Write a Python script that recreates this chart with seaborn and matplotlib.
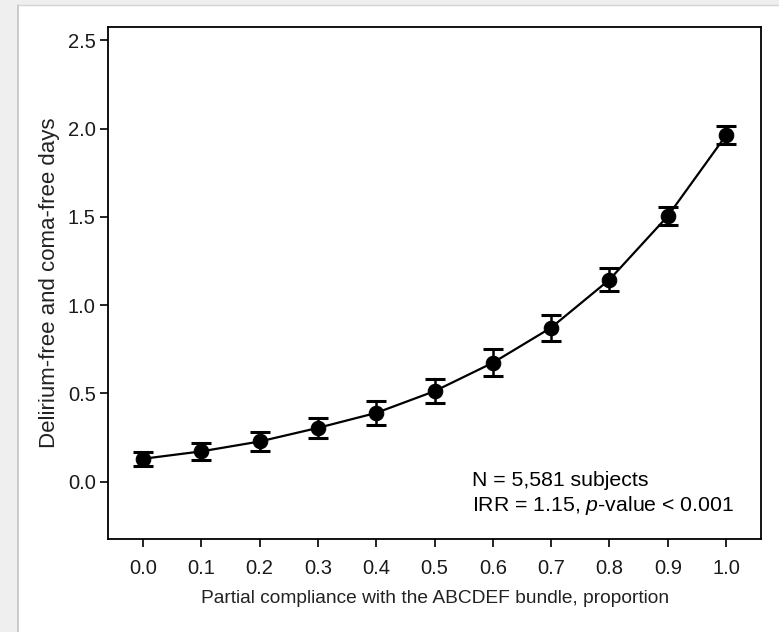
import numpy as np
import pandas as pd
import matplotlib
matplotlib.use("Agg")
import matplotlib.pyplot as plt
from matplotlib.patches import Rectangle
from matplotlib.lines import Line2D
import seaborn as sns

# Partial compliance with the ABCDEF bundle and predicted outcome
compliance = [0.0, 0.1, 0.2, 0.3, 0.4, 0.5, 0.6, 0.7, 0.8, 0.9, 1.0]
free_days = [0.130, 0.172, 0.228, 0.305, 0.390, 0.513, 0.674, 0.873, 1.145, 1.505, 1.963]
ci_half = [0.040, 0.050, 0.054, 0.055, 0.068, 0.069, 0.076, 0.073, 0.065, 0.050, 0.052]
x_ticks = [0.0, 0.1, 0.2, 0.3, 0.4, 0.5, 0.6, 0.7, 0.8, 0.9, 1.0]
y_ticks = [0.0, 0.5, 1.0, 1.5, 2.0, 2.5]

df = pd.DataFrame({"compliance": compliance, "days": free_days, "half": ci_half})

sns.set_theme(style="ticks")
plt.rcParams["font.family"] = ["Liberation Sans", "DejaVu Sans"]
plt.rcParams["mathtext.fontset"] = "custom"
plt.rcParams["mathtext.rm"] = "Liberation Sans"
plt.rcParams["mathtext.it"] = "Liberation Sans:italic"

fig = plt.figure(figsize=(7.79, 6.32), dpi=100)
fig.patch.set_facecolor("#efefef")
L, T = 18 / 779, 1 - 5 / 632
fig.patches.append(Rectangle((L, 0), 1 - L, T, transform=fig.transFigure,
                             facecolor="white", edgecolor="none", zorder=-2))
fig.lines.append(Line2D([L, L], [0, T], transform=fig.transFigure, color="#c4c4c4", lw=1.2, zorder=-1))
fig.lines.append(Line2D([L, 1], [T, T], transform=fig.transFigure, color="#d4d4d4", lw=1.0, zorder=-1))

ax = fig.add_axes([0.139, 0.147, 0.838, 0.811])
ax.set_facecolor("white")

ax.errorbar(df["compliance"], df["days"], yerr=df["half"], fmt="none",
            ecolor="black", elinewidth=1.8, capsize=7, capthick=2.2, zorder=3)
sns.lineplot(data=df, x="compliance", y="days", ax=ax, color="black",
             linewidth=1.6, marker="o", markersize=10.5, markeredgecolor="black",
             markerfacecolor="black", zorder=4)

ax.set_xlim(-0.0595, 1.06)
ax.set_ylim(-0.325, 2.579)
ax.set_xticks(x_ticks)
ax.set_xticklabels([f"{v:.1f}" for v in x_ticks])
ax.set_yticks(y_ticks)
ax.set_yticklabels([f"{v:.1f}" for v in y_ticks])
ax.tick_params(axis="both", direction="out", length=6, width=1.2, colors="black",
               labelsize=14.5, labelcolor="#1a1a1a")
ax.tick_params(axis="x", pad=8)
ax.tick_params(axis="y", pad=3)
for s in ax.spines.values():
    s.set_visible(True)
    s.set_color("black")
    s.set_linewidth(1.3)

ax.set_xlabel("Partial compliance with the ABCDEF bundle, proportion",
              fontsize=13.8, color="#222222", va="center")
ax.xaxis.set_label_coords(0.5, -0.115)
ax.set_ylabel("Delirium-free and coma-free days", fontsize=16, color="#222222",
              va="center")
ax.yaxis.set_label_coords(-0.0893, 0.5)

ax.text(0.564, 0.006, "N = 5,581 subjects", fontsize=15.3, color="black",
        va="center", ha="left")
ax.text(0.564, -0.132, "IRR = 1.15, $\\it{p}$-value < 0.001", fontsize=15.3,
        color="black", va="center", ha="left")

fig.savefig("out.png", dpi=100, facecolor=fig.get_facecolor())
